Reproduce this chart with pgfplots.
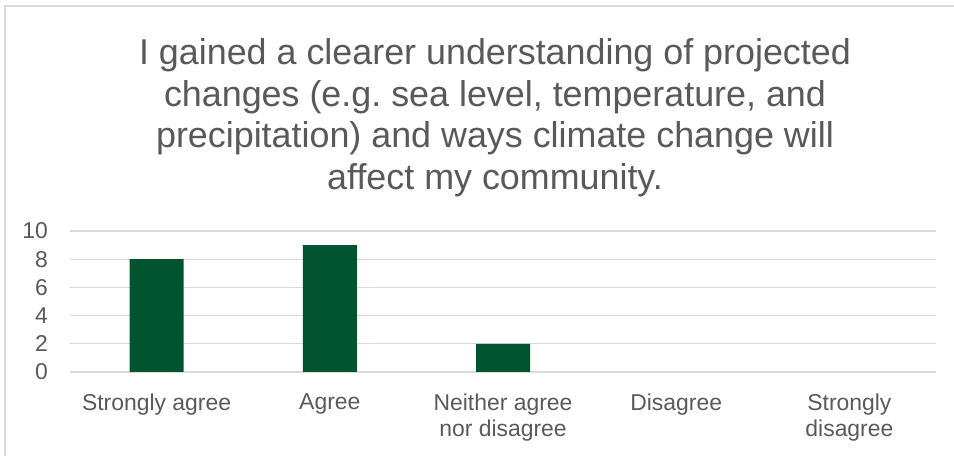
\documentclass[border=0pt]{standalone}
\usepackage{pgfplots}
\pgfplotsset{compat=1.18}
\usepackage{fontspec}
\setmainfont{Liberation Sans}
\definecolor{txtgray}{HTML}{595959}
\definecolor{gridgray}{HTML}{D9D9D9}
\definecolor{bargreen}{HTML}{00532F}
\frenchspacing
\begin{document}
\begin{tikzpicture}[x=1bp,y=1bp]
\useasboundingbox (0,0) rectangle (954,456);
% chart frame (cut off at right and bottom in the reference)
\draw[gridgray, line width=1.5bp] (5,-10) -- (5,450) -- (964,450);
\node[txtgray, align=center, anchor=north, inner sep=0pt,
      font=\fontsize{36}{42}\selectfont] at (495,418)
  {I gained a clearer understanding of projected\\
   changes (e.g. sea level, temperature, and\\
   precipitation) and ways climate change will\\
   affect my community.};
\begin{axis}[
    at={(70bp,84bp)}, anchor=south west,
    scale only axis, width=866bp, height=141bp,
    xmin=-0.5, xmax=4.5, ymin=0, ymax=10,
    ytick={0,2,...,10},
    xtick={0,1,2,3,4},
    xticklabels={Strongly agree, Agree, {Neither agree\\nor disagree}, Disagree, {Strongly\\disagree}},
    axis line style={draw=none},
    tick style={draw=none},
    ymajorgrids, grid style={gridgray, line width=1.2bp},
    ticklabel style={txtgray, font=\fontsize{23}{26.5}\selectfont},
    /pgf/number format/assume math mode=true,
    yticklabel style={inner sep=0pt, anchor=east, xshift=-22bp},
    xticklabel style={align=center, inner sep=0pt, anchor=north, yshift=-17bp},
    ybar, bar width=54bp,
]
% Disagree and Strongly disagree are 0 (no bar drawn)
\addplot[fill=bargreen, draw=none] coordinates {(0,8) (1,9) (2,2)};
\end{axis}
\end{tikzpicture}
\end{document}
